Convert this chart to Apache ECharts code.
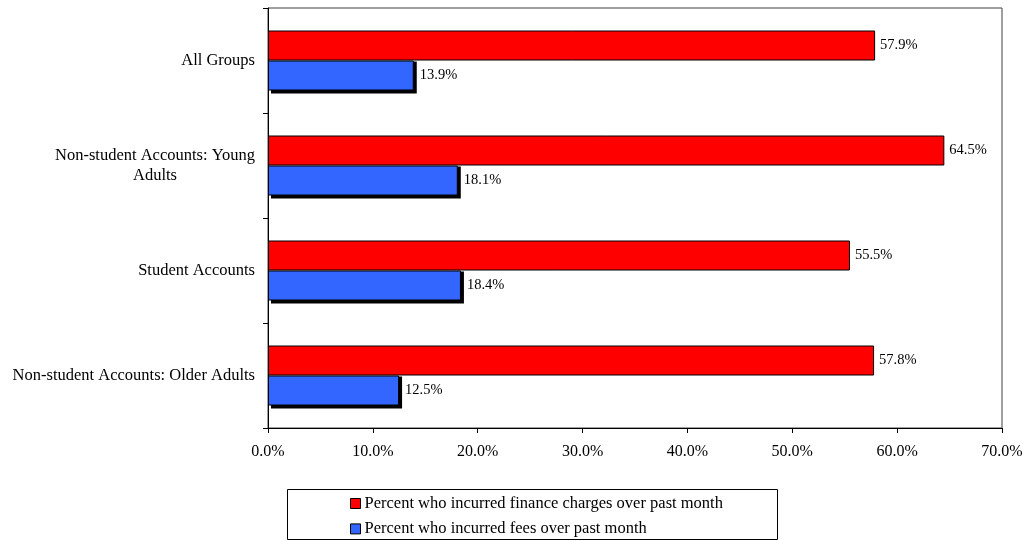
<!DOCTYPE html>
<html>
<head>
<meta charset="utf-8">
<script src="https://cdn.jsdelivr.net/npm/echarts@6/dist/echarts.min.js"></script>
<style>
  html, body { margin: 0; padding: 0; background: #fff; }
  #chart { width: 1028px; height: 541px; }
</style>
</head>
<body>
<div id="chart"></div>
<script>
// Account groups, top to bottom
const categories = [
  'All Groups',
  'Non-student Accounts: Young\nAdults',
  'Student Accounts',
  'Non-student Accounts: Older Adults'
];
// Share of accounts (%) per group
const financeCharges = [57.9, 64.5, 55.5, 57.8];
const fees = [13.9, 18.1, 18.4, 12.5];
const seriesNames = [
  'Percent who incurred finance charges over past month',
  'Percent who incurred fees over past month'
];
const axisMax = 70;
const axisStep = 10;

const FONT = '"Liberation Serif", "Times New Roman", serif';
const BAR_W = 30;
const SHADOW = 3;
const pct = v => v.toFixed(1) + '%';

const chart = echarts.init(document.getElementById('chart'), null, { renderer: 'canvas' });

chart.setOption({
  backgroundColor: '#ffffff',
  animation: false,
  textStyle: { fontFamily: FONT, color: '#000' },
  grid: {
    left: 268, right: 26, top: 8, bottom: 113,
    show: true, borderColor: '#404040', borderWidth: 1, backgroundColor: 'transparent'
  },
  xAxis: {
    type: 'value',
    min: 0, max: axisMax, interval: axisStep,
    axisLine: { show: true, lineStyle: { color: '#000', width: 1 } },
    axisTick: { show: true, length: 5, lineStyle: { color: '#000' } },
    splitLine: { show: false },
    axisLabel: {
      margin: 16, fontFamily: FONT, fontSize: 16, color: '#000',
      formatter: v => pct(v)
    }
  },
  yAxis: {
    type: 'category',
    data: categories,
    inverse: true,
    axisLine: { show: true, lineStyle: { color: '#000', width: 1 } },
    axisTick: { show: true, length: 5, interval: 0, lineStyle: { color: '#000' } },
    axisLabel: {
      margin: 13, fontFamily: FONT, fontSize: 16.5, color: '#000', interval: 0,
      lineHeight: 20,
      formatter: v => v.split('\n').map(s => '{c|' + s + '}').join('\n'),
      rich: { c: { align: 'center', fontFamily: FONT, fontSize: 16.5, lineHeight: 20, color: '#000' } }
    }
  },
  legend: {
    orient: 'vertical',
    left: 350, top: 495,
    padding: 0,
    itemWidth: 10, itemHeight: 10, itemGap: 8.4,
    icon: 'rect',
    textStyle: { fontFamily: FONT, fontSize: 16.5, color: '#000', lineHeight: 16, padding: [0, 0, 0, -1] },
    itemStyle: { borderColor: '#000', borderWidth: 1 },
    data: seriesNames
  },
  graphic: [{
    type: 'rect',
    left: 287, top: 489,
    shape: { width: 490, height: 50 },
    style: { fill: 'transparent', stroke: '#000', lineWidth: 1 },
    silent: true
  }],
  series: [
    {
      name: seriesNames[0],
      type: 'bar',
      z: 3,
      data: financeCharges,
      barWidth: BAR_W,
      barGap: '0%',
      itemStyle: { color: '#ff0000', borderColor: '#000', borderWidth: 1 },
      label: {
        show: true, position: 'right', distance: 5,
        fontFamily: FONT, fontSize: 14.5, color: '#000',
        formatter: p => pct(p.value)
      }
    },
    {
      name: seriesNames[1],
      type: 'bar',
      z: 3,
      data: fees,
      barWidth: BAR_W,
      barGap: '0%',
      itemStyle: { color: '#3366ff', borderColor: '#000', borderWidth: 1 },
      label: {
        show: true, position: 'right', distance: 6,
        fontFamily: FONT, fontSize: 14.5, color: '#000',
        formatter: p => pct(p.value)
      }
    },
    {
      // solid drop shadow on the right and bottom of each fee bar
      name: 'fees-shadow',
      type: 'custom',
      z: 2,
      silent: true,
      data: fees.map((v, i) => [v, i]),
      encode: { x: 0, y: 1 },
      renderItem: (params, api) => {
        const i = api.value(1);
        const start = api.coord([0, i]);
        const end = api.coord([api.value(0), i]);
        return {
          type: 'rect',
          shape: {
            x: start[0] + SHADOW, y: start[1] + 1,
            width: end[0] - start[0], height: BAR_W + SHADOW - 1
          },
          style: { fill: '#000' }
        };
      }
    }
  ]
});
</script>
</body>
</html>
